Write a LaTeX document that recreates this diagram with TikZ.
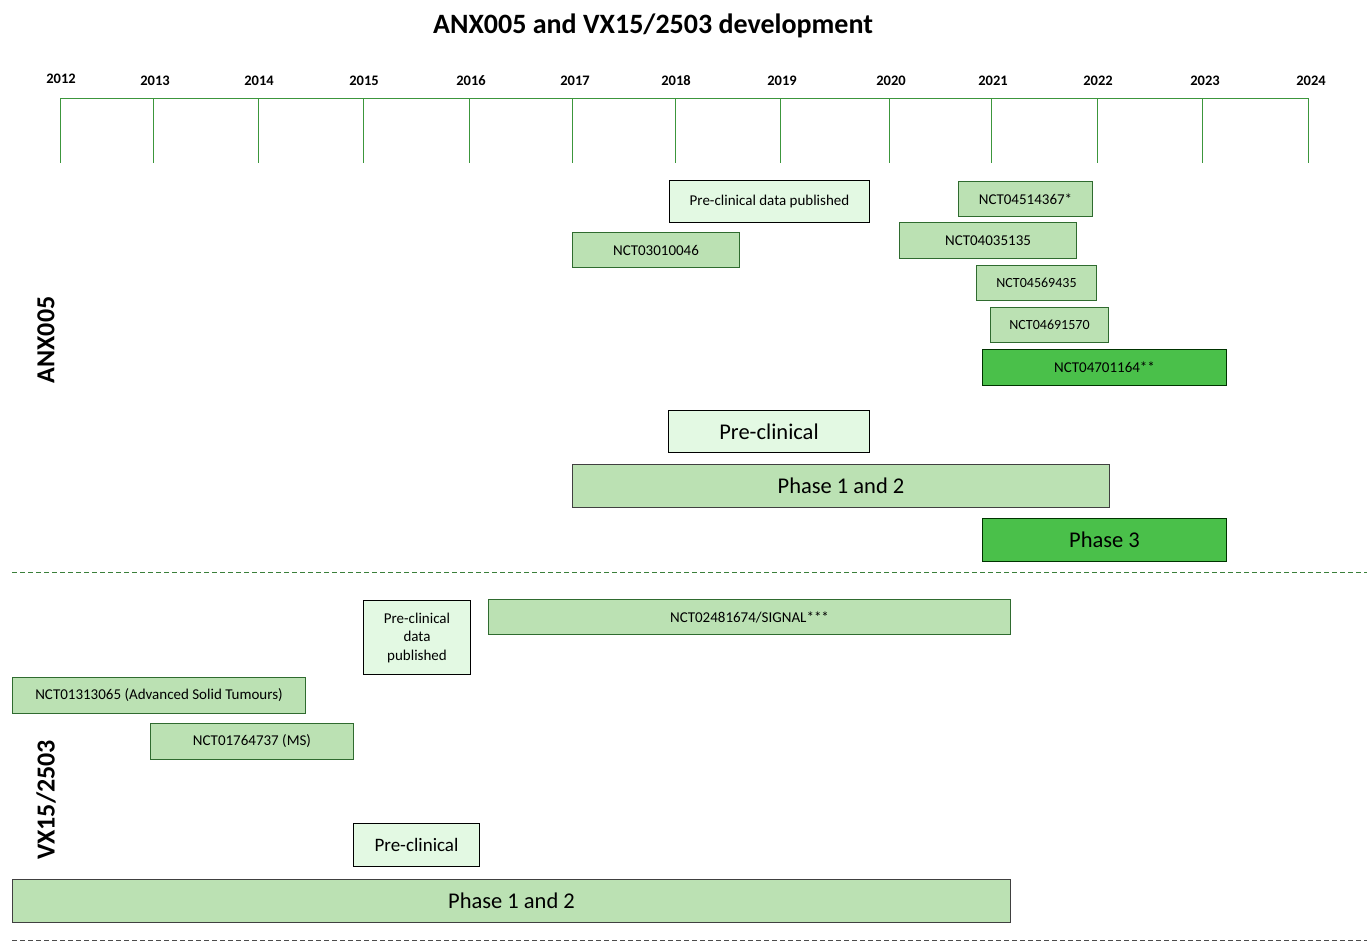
\documentclass[tikz,border=0pt]{standalone}
\usepackage{fontspec}
\setmainfont{Carlito}
\definecolor{lightfill}{HTML}{E3F9E3}
\definecolor{midfill}{HTML}{BBE1B3}
\definecolor{darkfill}{HTML}{4AC04A}
\definecolor{boxedge}{HTML}{2F6B2F}
\definecolor{axisgreen}{HTML}{3C963C}
\definecolor{dashgreen}{HTML}{3A7F3A}
\tikzset{
  base/.style={rectangle, inner sep=0pt, align=center, line width=1pt, font=\fontsize{15}{18}\selectfont},
  lightbox/.style={base, fill=lightfill, draw=black},
  midbox/.style={base, fill=midfill, draw=boxedge},
  darkbox/.style={base, fill=darkfill, draw=black!80!green},
  bigtext/.style={font=\fontsize{22.5}{26}\selectfont},
  yearlbl/.style={font=\bfseries\fontsize{14.5}{17}\selectfont},
  tickline/.style={draw=axisgreen, line width=0.9pt},
  sidelbl/.style={font=\bfseries\fontsize{26}{30}\selectfont, rotate=90},
}
\newcommand\bx[7]{%
  \pgfmathsetmacro\bxw{#4-#2}\pgfmathsetmacro\bxh{#5-#3}%
  \node[#6, anchor=north west, minimum width=\bxw pt, minimum height=\bxh pt] (#1) at (#2,#3) {#7};}
\begin{document}
\begin{tikzpicture}[x=1pt,y=-1pt]
\useasboundingbox (0,0) rectangle (1367,945);
% title
\node[font=\bfseries\fontsize{28}{32}\selectfont] (title) at (653,26) {ANX005 and VX15/2503 development};
% axis
\coordinate (axL) at (60,98);
\coordinate (axR) at (1308,98);
\draw[tickline] (axL) -- (axR);
\foreach \yr/\xx/\yy in {2012/61/79, 2013/155/81, 2014/259/81, 2015/364/81, 2016/471/81, 2017/575/81, 2018/676/81, 2019/782/81, 2020/891/81, 2021/993/81, 2022/1098/81, 2023/1205/81, 2024/1311/81}{
  \node[yearlbl] (y\yr) at (\xx,\yy) {\yr};
}
\foreach \nm/\xx in {a/60, b/153, c/258, d/363, e/469, f/572, g/675, h/780, i/889, j/991, k/1097, l/1202, m/1308}{
  \coordinate (t\nm top) at (\xx,98);
  \coordinate (t\nm bot) at (\xx,163);
  \draw[tickline] (t\nm top) -- (t\nm bot);
}
% ANX005
\node[sidelbl] (anx) at (46,340) {ANX005};
\bx{apub}{669}{180}{869}{222}{lightbox}{Pre-clinical data published}
\bx{a1}{572}{232}{739}{267}{midbox}{NCT03010046}
\bx{a2}{958}{181}{1092}{216}{midbox}{NCT04514367*}
\bx{a3}{899}{222}{1076}{258}{midbox}{NCT04035135}
\bx{a4}{976}{265}{1096}{300}{midbox, font=\fontsize{14}{16}\selectfont}{NCT04569435}
\bx{a5}{990}{307}{1108}{342}{midbox, font=\fontsize{14}{16}\selectfont}{NCT04691570}
\bx{a6}{982}{349}{1226}{385}{darkbox}{NCT04701164**}
\bx{apre}{668}{410}{869}{452}{lightbox, bigtext}{Pre-clinical}
\bx{aph12}{572}{464}{1109}{507}{midbox, bigtext, draw=black!75}{Phase 1 and 2}
\bx{aph3}{982}{518}{1226}{561}{darkbox, bigtext}{Phase 3}
% separator
\coordinate (s1L) at (12,572);
\coordinate (s1R) at (1367,572);
\draw[dashgreen, line width=1pt, dash pattern=on 5pt off 3pt] (s1L) -- (s1R);
% VX15/2503
\node[sidelbl] (vx) at (46,800) {VX15/2503};
\bx{vpub}{363}{600}{470}{674}{lightbox, font=\fontsize{15}{18.5}\selectfont}{Pre-clinical\\data\\published}
\bx{v1}{488}{599}{1010}{634}{midbox}{NCT02481674/SIGNAL***}
\bx{v2}{12}{677}{305}{713}{midbox}{NCT01313065 (Advanced Solid Tumours)}
\bx{v3}{150}{723}{353}{759}{midbox}{NCT01764737 (MS)}
\bx{vpre}{353}{823}{479}{866}{lightbox, font=\fontsize{19}{22}\selectfont}{Pre-clinical}
\bx{vph12}{12}{879}{1010}{922}{midbox, bigtext, draw=black!75}{Phase 1 and 2}
\coordinate (s2L) at (12,940);
\coordinate (s2R) at (1367,940);
\draw[black!70, line width=1pt, dash pattern=on 5pt off 3pt] (s2L) -- (s2R);
\end{tikzpicture}
\end{document}
